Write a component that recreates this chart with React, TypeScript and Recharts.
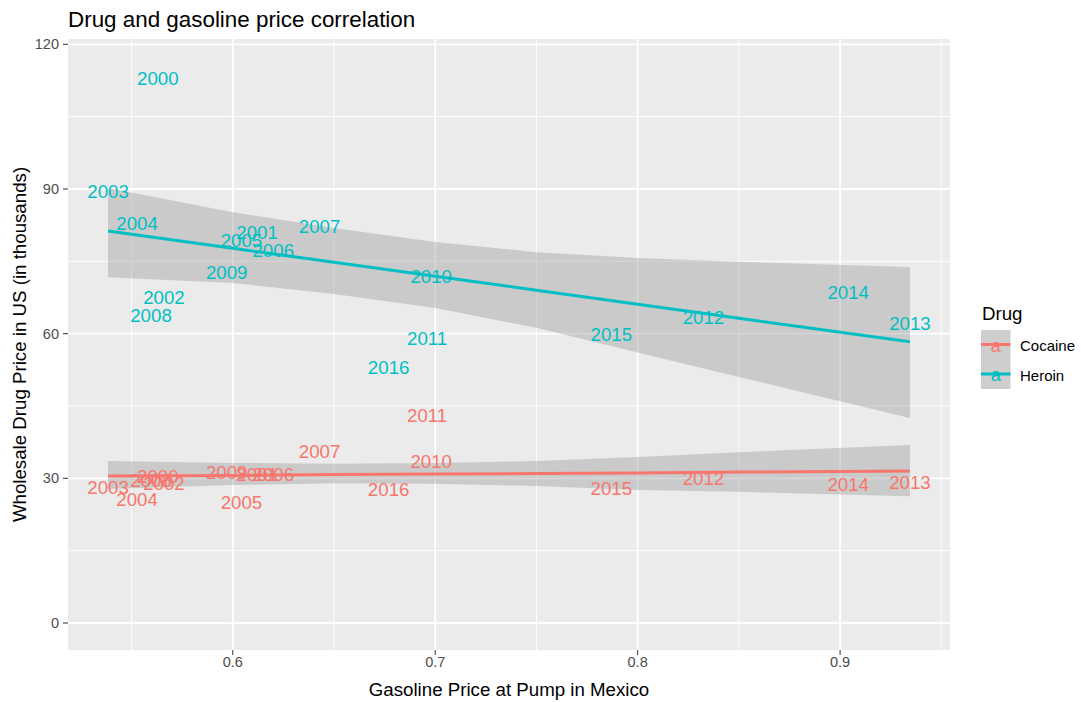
import React from "react";
import {
  ComposedChart,
  XAxis,
  YAxis,
  CartesianGrid,
  Area,
  Line,
  Scatter,
} from "recharts";

// ---- Data ----
const years = [
  "2000", "2001", "2002", "2003", "2004", "2005", "2006", "2007", "2008",
  "2009", "2010", "2011", "2012", "2013", "2014", "2015", "2016",
];
// Gasoline price at pump in Mexico, per year
const gasPrice = [
  0.563, 0.612, 0.566, 0.5384, 0.5527, 0.6043, 0.62, 0.6429, 0.5596,
  0.597, 0.698, 0.696, 0.8325, 0.9345, 0.904, 0.787, 0.677,
];
// Wholesale heroin price in US (thousands)
const heroinPrice = [
  113.0, 80.9, 67.6, 89.5, 82.9, 79.4, 77.3, 82.3, 63.7,
  72.6, 71.9, 58.9, 63.4, 62.2, 68.6, 59.9, 52.9,
];
// Wholesale cocaine price in US (thousands)
const cocainePrice = [
  30.3, 30.7, 29.0, 28.2, 25.7, 24.9, 30.9, 35.5, 29.5,
  31.3, 33.4, 43.1, 29.9, 29.2, 28.8, 28.0, 27.6,
];

// Smoother (lm) fit and confidence band, read at these x positions
const fitX = [0.5384, 0.6, 0.65, 0.7, 0.75, 0.8, 0.85, 0.9345];
const heroinFit = [81.3, 77.7, 74.8, 71.9, 69.0, 66.1, 63.2, 58.3];
const heroinLower = [71.7, 70.5, 68.2, 65.3, 61.2, 56.1, 51.0, 42.5];
const heroinUpper = [90.2, 85.2, 81.9, 79.0, 76.9, 75.7, 74.9, 73.8];
const cocaineFit = [30.5, 30.6, 30.8, 30.9, 31.0, 31.1, 31.3, 31.5];
const cocaineLower = [27.8, 28.6, 29.0, 28.9, 28.4, 27.6, 27.2, 26.3];
const cocaineUpper = [33.6, 33.2, 33.0, 33.2, 33.6, 34.4, 35.4, 36.9];

const xTicks = [0.6, 0.7, 0.8, 0.9];
const xMinor = [0.55, 0.65, 0.75, 0.85, 0.95];
const yTicks = [0, 30, 60, 90, 120];
const yMinor = [15, 45, 75, 105];

const COCAINE = "#F8766D";
const HEROIN = "#00BFC4";
const FONT = "'Liberation Sans', Arial, sans-serif";

const fitTable = fitX.map((x, i) => ({
  x,
  hFit: heroinFit[i],
  hBand: [heroinLower[i], heroinUpper[i]],
  cFit: cocaineFit[i],
  cBand: [cocaineLower[i], cocaineUpper[i]],
}));

const heroinPoints = years.map((label, i) => ({
  x: gasPrice[i],
  y: heroinPrice[i],
  label,
}));
const cocainePoints = years.map((label, i) => ({
  x: gasPrice[i],
  y: cocainePrice[i],
  label,
}));

const makeLabel = (color: string) => (props: any) => {
  const { cx, cy, payload } = props;
  return (
    <text
      x={cx}
      y={cy}
      dy="0.35em"
      textAnchor="middle"
      fill={color}
      fontSize={18.7}
      fontFamily={FONT}
    >
      {payload.label}
    </text>
  );
};

export default function App() {
  const W = 1081;
  const H = 702;
  return (
    <div
      style={{
        position: "absolute",
        left: 0,
        top: 0,
        width: W,
        height: H,
        background: "#FFFFFF",
        fontFamily: FONT,
      }}
    >
      <ComposedChart
        width={W}
        height={H}
        data={fitTable}
        margin={{ top: 39, right: 131, bottom: 22, left: 8 }}
        style={{ fontFamily: FONT }}
      >
        <CartesianGrid
          fill="#EBEBEB"
          stroke="#FFFFFF"
          strokeWidth={0.9}
          horizontalValues={yMinor}
          verticalValues={xMinor}
        />
        <CartesianGrid
          stroke="#FFFFFF"
          strokeWidth={1.8}
          horizontalValues={yTicks}
          verticalValues={xTicks}
        />
        <XAxis
          type="number"
          dataKey="x"
          domain={[0.5186, 0.9543]}
          allowDataOverflow
          ticks={xTicks}
          tickFormatter={(v: number) => String(v)}
          axisLine={false}
          tickLine={{ stroke: "#333333", strokeWidth: 1 }}
          tickSize={5}
          tickMargin={2}
          height={30}
          tick={{ fill: "#4D4D4D", fontSize: 14.5, fontFamily: FONT }}
        />
        <YAxis
          type="number"
          domain={[-5.6, 121.1]}
          allowDataOverflow
          ticks={yTicks}
          axisLine={false}
          tickLine={{ stroke: "#333333", strokeWidth: 1 }}
          tickSize={5}
          tickMargin={4}
          width={60}
          tick={{ fill: "#4D4D4D", fontSize: 14.5, fontFamily: FONT }}
        />
        <Scatter
          data={heroinPoints}
          dataKey="y"
          shape={makeLabel(HEROIN)}
          isAnimationActive={false}
        />
        <Scatter
          data={cocainePoints}
          dataKey="y"
          shape={makeLabel(COCAINE)}
          isAnimationActive={false}
        />
        <Area
          dataKey="hBand"
          type="linear"
          stroke="none"
          fill="#999999"
          fillOpacity={0.4}
          isAnimationActive={false}
        />
        <Area
          dataKey="cBand"
          type="linear"
          stroke="none"
          fill="#999999"
          fillOpacity={0.4}
          isAnimationActive={false}
        />
        <Line
          dataKey="hFit"
          type="linear"
          stroke={HEROIN}
          strokeWidth={3}
          dot={false}
          isAnimationActive={false}
        />
        <Line
          dataKey="cFit"
          type="linear"
          stroke={COCAINE}
          strokeWidth={3}
          dot={false}
          isAnimationActive={false}
        />
      </ComposedChart>
      <svg
        width={W}
        height={H}
        style={{ position: "absolute", left: 0, top: 0, pointerEvents: "none" }}
        fontFamily={FONT}
      >
        <text x={68} y={27} fontSize={22.4} fill="#000000">
          Drug and gasoline price correlation
        </text>
        <text x={509} y={696} fontSize={18.7} fill="#000000" textAnchor="middle">
          Gasoline Price at Pump in Mexico
        </text>
        <text
          x={0}
          y={0}
          fontSize={18.7}
          fill="#000000"
          textAnchor="middle"
          transform="translate(26,344.5) rotate(-90)"
        >
          Wholesale Drug Price in US (in thousands)
        </text>
        {/* Legend */}
        <text x={982} y={320} fontSize={18.7} fill="#000000">
          Drug
        </text>
        <rect x={981} y={330} width={29.5} height={59} fill="#CECECE" />
        <line x1={981} x2={1010.5} y1={344.5} y2={344.5} stroke={COCAINE} strokeWidth={3} />
        <text x={995.8} y={351.5} fontSize={18} fill={COCAINE} textAnchor="middle">
          a
        </text>
        <line x1={981} x2={1010.5} y1={374} y2={374} stroke={HEROIN} strokeWidth={3} />
        <text x={995.8} y={381} fontSize={18} fill={HEROIN} textAnchor="middle">
          a
        </text>
        <text x={1020} y={351} fontSize={15} fill="#000000">
          Cocaine
        </text>
        <text x={1020} y={381} fontSize={15} fill="#000000">
          Heroin
        </text>
      </svg>
    </div>
  );
}
